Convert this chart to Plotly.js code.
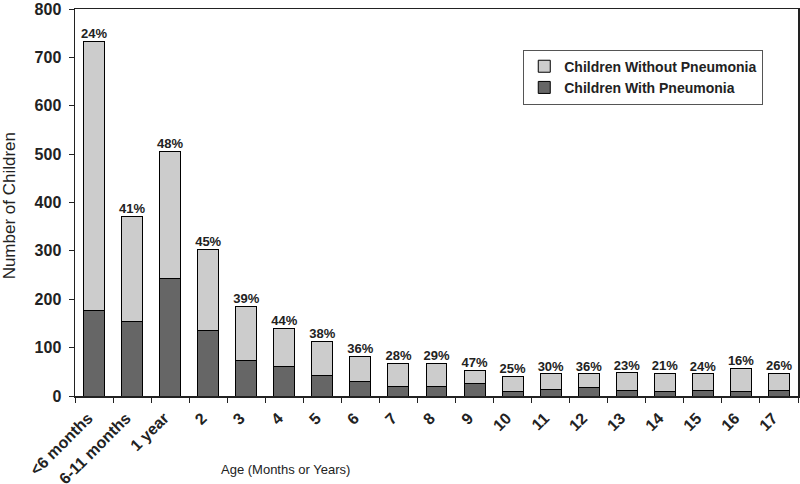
<!DOCTYPE html>
<html>
<head>
<meta charset="utf-8">
<script src="https://cdn.plot.ly/plotly-3.0.1.min.js"></script>
<style>html,body{margin:0;padding:0;background:#fff}#chart{width:800px;height:484px}</style>
</head>
<body>
<div id="chart"></div>
<script>
var categories = ['<6 months','6-11 months','1 year','2','3','4','5','6','7','8','9','10','11','12','13','14','15','16','17'];
var withPneumonia = [176,153,243,136,73,62,43,30,19,19,25,10,14,17,11,10,11,9,12];
var withoutPneumonia = [557,219,262,167,113,78,70,52,49,48,28,31,32,29,37,37,35,48,35];
var pctLabels = ['24%','41%','48%','45%','39%','44%','38%','36%','28%','29%','47%','25%','30%','36%','23%','21%','24%','16%','26%'];
var yTicks = [0,100,200,300,400,500,600,700,800];
var totals = withPneumonia.map(function(v,i){return v + withoutPneumonia[i];});

var F = 'Arial, "Liberation Sans", sans-serif';
var traces = [
  {type:'bar', name:'Children With Pneumonia', x:categories, y:withPneumonia,
   marker:{color:'#666666', line:{color:'#000', width:1}}},
  {type:'bar', name:'Children Without Pneumonia', x:categories, y:withoutPneumonia,
   marker:{color:'#cccccc', line:{color:'#000', width:1}}},
  {type:'scatter', mode:'text', x:categories, y:totals, text:pctLabels,
   marker:{size:16}, textposition:'top center', showlegend:false, hoverinfo:'skip', cliponaxis:false,
   textfont:{family:F, size:13, color:'#222', weight:'bold'}}
];
var layout = {
  width:800, height:484,
  margin:{l:75, r:2, t:9, b:88},
  paper_bgcolor:'#fff', plot_bgcolor:'#fff',
  barmode:'stack', bargap:0.45,
  font:{family:F, color:'#222'},
  showlegend:true,
  legend:{x:0.62, y:0.895, xanchor:'left', yanchor:'top', traceorder:'reversed',
    bordercolor:'#555', borderwidth:1, bgcolor:'#fff', itemwidth:30,
    font:{family:F, size:14, color:'#222', weight:'bold'}},
  xaxis:{type:'category', range:[-0.5, categories.length-0.5], showline:true, linecolor:'#222', linewidth:1.5, mirror:true,
    ticks:'outside', ticklen:5, tickcolor:'#222', tickson:'boundaries',
    tickangle:-45, ticklabelshift:-6, ticklabelstandoff:5,
    tickfont:{family:F, size:16, color:'#222', weight:'bold'}, showgrid:false},
  yaxis:{range:[0,800], tickvals:yTicks, showline:true, linecolor:'#222', linewidth:1.5, mirror:true,
    ticks:'outside', ticklen:5, tickcolor:'#222', showgrid:false, zeroline:false, ticklabelstandoff:4,
    tickfont:{family:F, size:16, color:'#222', weight:'bold'}},
  annotations:[
    {text:'Age (Months or Years)', xref:'paper', yref:'paper', x:(285-75)/723, xanchor:'center', y:-0.19, yanchor:'middle',
     showarrow:false, font:{family:'"Liberation Sans Narrow", Arial, sans-serif', size:13, color:'#222'}},
    {text:'Number of Children', xref:'paper', yref:'paper', x:(9-75)/723, xanchor:'center', y:0.49, yanchor:'middle', textangle:-90,
     showarrow:false, font:{family:F, size:17, color:'#222'}}
  ]
};
Plotly.newPlot('chart', traces, layout, {displayModeBar:false, staticPlot:true});
</script>
</body>
</html>
